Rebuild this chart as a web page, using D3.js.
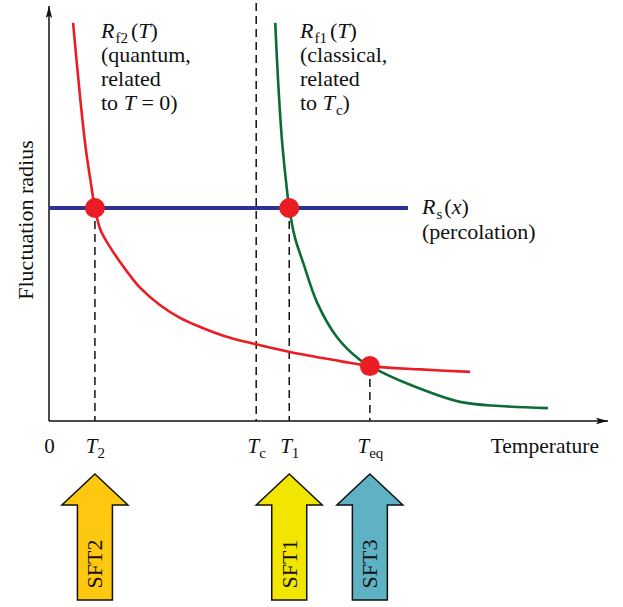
<!DOCTYPE html>
<html>
<head>
<meta charset="utf-8">
<script src="https://cdn.jsdelivr.net/npm/d3@7"></script>
<style>
  html, body { margin: 0; padding: 0; background: #fff; }
  svg { display: block; font-family: "Liberation Serif", "Times New Roman", serif; }
  text, tspan { font-family: "Liberation Serif", "Times New Roman", serif; fill: #111; }
</style>
</head>
<body>
<svg id="chart" width="623" height="607"></svg>
<script>
// Fluctuation radius vs temperature (arbitrary units)
const redT  = [4.3, 5.6, 6.6, 7.4, 8.2, 9.2, 10.9, 12.7, 14.5, 16.3, 19.8, 23.4, 27.0, 31.4, 36.8, 43.0, 52.0, 57.3, 66.3, 75.2];
const redR  = [95.7, 77.2, 65.1, 57.9, 51.2, 45.9, 41.8, 38.2, 34.9, 32.0, 27.9, 24.8, 22.6, 20.4, 18.5, 16.6, 14.4, 13.2, 12.4, 11.8];
const greenT = [40.4, 40.9, 41.6, 42.3, 42.9, 43.9, 45.4, 47.9, 51.4, 55.5, 57.3, 64.5, 73.4, 80.5, 89.1];
const greenR = [95.7, 82.0, 67.5, 57.9, 51.2, 44.2, 38.0, 28.4, 20.2, 14.7, 13.2, 8.7, 4.6, 3.6, 3.1];
const percR = 51.2;          // R_s(x)
const percEnd = 64.1;        // right end of the percolation line
const T2 = 8.2, Tc = 37.0, T1 = 42.9, Teq = 57.3;
const crossR = 13.2;         // radius where both curves meet at T_eq

const tickValues = [0, T2, Tc, T1, Teq];
const tickMain = ["0", "T", "T", "T", "T"];
const tickSub  = ["", "2", "c", "1", "eq"];

const arrowNames  = ["SFT2", "SFT1", "SFT3"];
const arrowAt     = [T2, T1, Teq];
const arrowColors = ["#fdc80f", "#f2e600", "#5fb2c3"];

const FONT = '"Liberation Serif", "Times New Roman", serif';
const svg = d3.select("#chart").attr("font-family", FONT);
const x = d3.scaleLinear().domain([0, 100]).range([49, 609]);
const y = d3.scaleLinear().domain([0, 100]).range([421, 5]);

// arrowheads for the axes
const defs = svg.append("defs");
defs.append("marker").attr("id", "ah").attr("viewBox", "0 0 12 8")
  .attr("refX", 12).attr("refY", 4).attr("markerWidth", 12).attr("markerHeight", 8)
  .attr("markerUnits", "userSpaceOnUse").attr("orient", "auto")
  .append("path").attr("d", "M0,0.8 L12,4 L0,7.2 L2.5,4 Z").attr("fill", "#111");

// dashed guide lines
const guides = [
  [Tc, 100.5, 0],
  [T2, percR, 0],
  [T1, percR, 0],
  [Teq, crossR, 0]
];
svg.append("g").selectAll("line").data(guides).join("line")
  .attr("x1", d => x(d[0])).attr("x2", d => x(d[0]))
  .attr("y1", d => y(d[1])).attr("y2", d => y(d[2]))
  .attr("stroke", "#111").attr("stroke-width", 1.5).attr("stroke-dasharray", "8,5");

// axes
svg.append("line").attr("x1", x(0)).attr("y1", y(0)).attr("x2", x(0)).attr("y2", y(100) + 1)
  .attr("stroke", "#111").attr("stroke-width", 1.5).attr("marker-end", "url(#ah)");
svg.append("line").attr("x1", x(0)).attr("y1", y(0)).attr("x2", x(100) - 1).attr("y2", y(0))
  .attr("stroke", "#111").attr("stroke-width", 1.5).attr("marker-end", "url(#ah)");

const xAxis = d3.axisBottom(x).tickValues(tickValues).tickSize(0).tickFormat("");
const gx = svg.append("g").attr("transform", `translate(0,${y(0)})`).call(xAxis);
gx.select(".domain").remove();
gx.attr("font-family", FONT);
gx.selectAll(".tick").each(function(d, i) {
  const t = d3.select(this).append("text")
    .attr("y", 32).attr("text-anchor", "middle")
    .style("font-family", FONT).style("font-size", "21px").style("fill", "#111");
  if (tickSub[i]) {
    t.append("tspan").style("font-style", "italic").text(tickMain[i]);
    t.append("tspan").attr("dy", 5).style("font-size", "15px").text(tickSub[i]);
  } else {
    t.append("tspan").text(tickMain[i]);
  }
});

svg.append("text").attr("x", 599).attr("y", 453).attr("text-anchor", "end")
  .style("font-family", FONT).style("font-size", "21.5px").text("Temperature");
svg.append("text").attr("transform", `translate(33,220) rotate(-90)`)
  .attr("text-anchor", "middle").style("font-family", FONT).style("font-size", "22px")
  .text("Fluctuation radius");

// curves
const line = d3.line().x(d => x(d[0])).y(d => y(d[1])).curve(d3.curveCatmullRom.alpha(0.5));
svg.append("path").datum(redT.map((t, i) => [t, redR[i]]))
  .attr("d", line).attr("fill", "none").attr("stroke", "#ec1c24").attr("stroke-width", 2.6);
svg.append("path").datum(greenT.map((t, i) => [t, greenR[i]]))
  .attr("d", line).attr("fill", "none").attr("stroke", "#0c6b36").attr("stroke-width", 2.6);
svg.append("line").attr("x1", x(0)).attr("x2", x(percEnd)).attr("y1", y(percR)).attr("y2", y(percR))
  .attr("stroke", "#2e3192").attr("stroke-width", 4);

// crossing points
svg.append("g").selectAll("circle").data([[T2, percR], [T1, percR], [Teq, crossR]]).join("circle")
  .attr("cx", d => x(d[0])).attr("cy", d => y(d[1])).attr("r", 10).attr("fill", "#ec1c24");

// curve labels: each segment is [text, style, dx] with style "i" italic, "s" subscript
function label(x0, y0, lines, gap) {
  lines.forEach((segs, li) => {
    const t = svg.append("text").attr("x", x0).attr("y", y0 + li * gap)
      .style("font-family", FONT).style("font-size", "22px");
    let shifted = false;
    segs.forEach(([s, st, dx]) => {
      const sp = t.append("tspan").style("font-family", FONT).text(s);
      if (dx) sp.attr("dx", dx);
      if (st === "i") sp.style("font-style", "italic");
      if (st === "s") { sp.style("font-size", "15px").attr("dy", 5); shifted = true; }
      else if (shifted) { sp.attr("dy", -5); shifted = false; }
    });
  });
}
label(101, 38, [
  [["R", "i"], ["f2", "s", 1], ["(", "", 3], ["T", "i"], [")", ""]],
  [["(quantum,", ""]],
  [["related", ""]],
  [["to ", ""], ["T", "i"], [" = 0)", ""]]
], 24);
label(300, 38, [
  [["R", "i"], ["f1", "s", 1], ["(", "", 3], ["T", "i"], [")", ""]],
  [["(classical,", ""]],
  [["related", ""]],
  [["to ", ""], ["T", "i"], ["c", "s", 1], [")", ""]]
], 24);
label(422, 214, [
  [["R", "i"], ["s", "s", 1], ["(", "", 2], ["x", "i"], [")", ""]],
  [["(percolation)", ""]]
], 25);

// block arrows below the axis
const tipY = 474, headY = 505, baseY = 600, headW = 33, shaftW = 17.5;
const ga = svg.append("g").selectAll("g").data(arrowNames).join("g")
  .attr("transform", (d, i) => `translate(${x(arrowAt[i])},0)`);
ga.append("path")
  .attr("d", `M0,${tipY} L${headW},${headY} L${shaftW},${headY} L${shaftW},${baseY} L${-shaftW},${baseY} L${-shaftW},${headY} L${-headW},${headY} Z`)
  .attr("fill", (d, i) => arrowColors[i]).attr("stroke", "#111").attr("stroke-width", 1.5)
  .attr("stroke-linejoin", "miter");
ga.append("text").attr("transform", "translate(7.5,564) rotate(-90)")
  .attr("text-anchor", "middle").style("font-family", FONT).style("font-size", "22px").text(d => d);
</script>
</body>
</html>
